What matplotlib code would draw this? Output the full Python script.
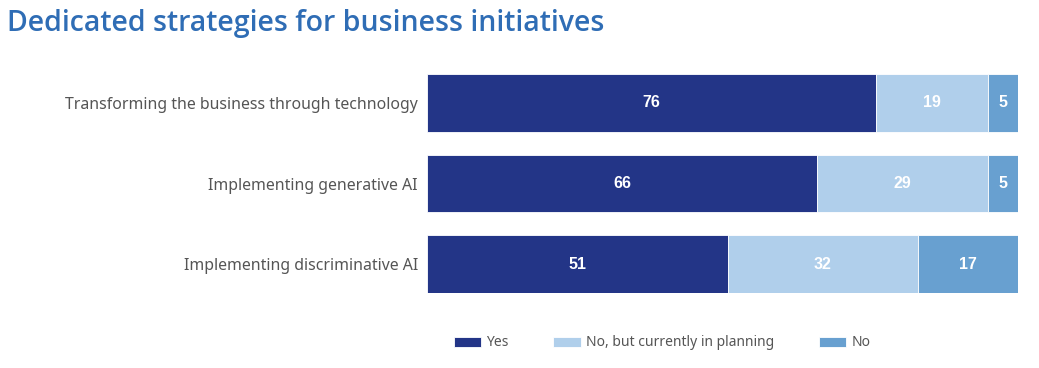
import matplotlib.pyplot as plt
import numpy as np

categories = ["Transforming the business through technology",
              "Implementing generative AI",
              "Implementing discriminative AI"]
yes = [76, 66, 51]
planning = [19, 29, 32]
no = [5, 5, 17]
series_names = ["Yes", "No, but currently in planning", "No"]
colors = ["#233587", "#b0cfeb", "#68a0d0"]

plt.rcParams['font.family'] = ['Noto Sans', 'DejaVu Sans']

fig = plt.figure(figsize=(10.39, 3.68), dpi=100)
ax = fig.add_axes([427 / 1039, (368 - 293) / 368, 591 / 1039, 219 / 368])

y = np.arange(len(categories))
left = np.zeros(len(categories))
for vals, name, c in zip([yes, planning, no], series_names, colors):
    vals = np.array(vals)
    ax.barh(y, vals, left=left, height=0.72, color=c, label=name,
            edgecolor='white', linewidth=0.6)
    for yi, l, v in zip(y, left, vals):
        ax.text(l + v / 2, yi, str(v), ha='center', va='center',
                color='white', fontsize=11.5, fontweight='bold',
                family='Liberation Sans')
    left = left + vals

ax.set_xlim(0, 100)
ax.set_ylim(2.36, -0.36)
ax.set_yticks(y)
ax.set_yticklabels(categories, fontsize=11.4, color='#555555')
ax.tick_params(axis='y', length=0, pad=6.5)
ax.set_xticks([])
for s in ax.spines.values():
    s.set_visible(False)

fig.text(7 / 1039, 1 - 24 / 368, "Dedicated strategies for business initiatives",
         fontsize=20.5, color='#2f6db5', va='center', ha='left',
         fontweight='semibold', family='Open Sans')

fig.legend(loc='center', bbox_to_anchor=(662 / 1039, 1 - 343 / 368), ncol=3,
           frameon=False, fontsize=10.0, handlelength=2.0, handleheight=0.72,
           handletextpad=0.36, columnspacing=3.2, labelcolor='#555555')

fig.savefig("out.png", dpi=100)
